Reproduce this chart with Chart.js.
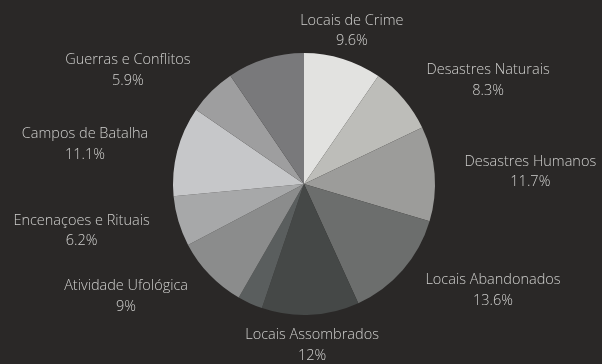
<!DOCTYPE html>
<html lang="pt">
<head>
<meta charset="utf-8">
<title>Turismo sombrio</title>
<script src="https://cdn.jsdelivr.net/npm/chart.js@4/dist/chart.umd.min.js"></script>
<style>
  html, body { margin: 0; padding: 0; background: #2a2827; }
  #wrap { position: relative; width: 602px; height: 364px; }
</style>
</head>
<body>
<div id="wrap"><canvas id="pie"></canvas></div>
<script>
// Categories, clockwise from 12 o'clock (two small slices carry no caption)
const categories = [
  'Locais de Crime',
  'Desastres Naturais',
  'Desastres Humanos',
  'Locais Abandonados',
  'Locais Assombrados',
  '',
  'Atividade Ufológica',
  'Encenaçoes e Rituais',
  'Campos de Batalha',
  'Guerras e Conflitos',
  ''
];

// Share of each category, in percent
const shares = [9.6, 8.3, 11.7, 13.6, 12, 3.1, 9, 6.2, 11.1, 5.9, 9.5];

// Grey tone of each slice
const sliceColors = [
  '#e2e2e0', '#bdbdb9', '#9c9c9a', '#6c6e6d', '#454847', '#5a5e5e',
  '#8b8c8c', '#a7a8a9', '#c6c7c9', '#9e9e9f', '#79797b'
];

// Outside captions: name on the first line, percentage centred below it.
// The two-line block hangs off the slice's mid-angle point, on the outer side.
const outsideLabels = {
  id: 'outsideLabels',
  afterDatasetsDraw(chart) {
    const ctx = chart.ctx;
    const meta = chart.getDatasetMeta(0);
    const values = chart.data.datasets[0].data;
    ctx.save();
    ctx.fillStyle = '#cfcfcd';
    ctx.font = '300 14.5px "Open Sans", sans-serif';
    ctx.textBaseline = 'middle';
    ctx.textAlign = 'center';
    meta.data.forEach((arc, i) => {
      const name = chart.data.labels[i];
      if (!name) return;
      const pct = values[i] + '%';
      const p = arc.getProps(['x', 'y', 'startAngle', 'endAngle', 'outerRadius'], true);
      const mid = (p.startAngle + p.endAngle) / 2;
      const r = p.outerRadius + 30;
      const ax = p.x + r * Math.cos(mid);
      const ay = p.y + r * Math.sin(mid);
      const c = Math.cos(mid);
      const w = Math.max(ctx.measureText(name).width, ctx.measureText(pct).width);
      let cx = ax;
      if (Math.abs(c) >= 0.5) cx = c > 0 ? ax + w / 2 : ax - w / 2;
      ctx.fillText(name, cx, ay - 9.5);
      ctx.fillText(pct, cx, ay + 11);
    });
    ctx.restore();
  }
};

new Chart(document.getElementById('pie'), {
  type: 'pie',
  data: {
    labels: categories,
    datasets: [{
      data: shares,
      backgroundColor: sliceColors,
      borderWidth: 0
    }]
  },
  options: {
    responsive: true,
    maintainAspectRatio: false,
    animation: false,
    layout: { padding: { left: 173, right: 167, top: 53, bottom: 49 } },
    plugins: {
      legend: { display: false },
      tooltip: { enabled: false }
    }
  },
  plugins: [outsideLabels]
});
</script>
</body>
</html>
